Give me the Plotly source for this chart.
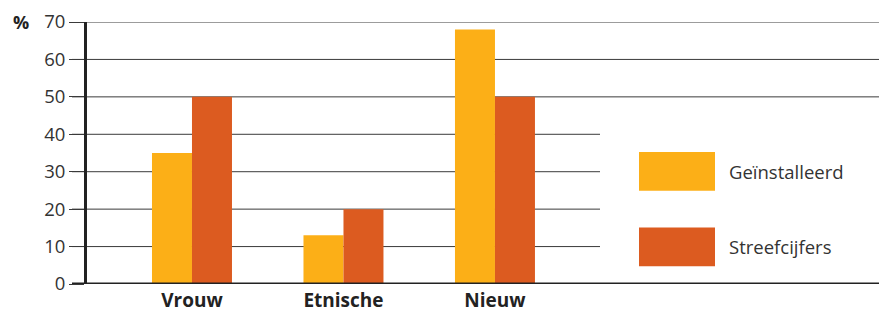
import plotly.graph_objects as go

categories = ["Vrouw", "Etnische", "Nieuw"]
geinstalleerd = [35, 13, 68]
streefcijfers = [50, 20, 50]
series_names = ["Geïnstalleerd", "Streefcijfers"]
y_ticks = [0, 10, 20, 30, 40, 50, 60, 70]

YELLOW = "#FCAF17"
ORANGE = "#DC5B20"
FONT = "Open Sans, Noto Sans, sans-serif"

x_idx = list(range(len(categories)))

fig = go.Figure()
fig.add_trace(go.Bar(x=x_idx, y=geinstalleerd, name=series_names[0],
                     marker=dict(color=YELLOW, line=dict(width=0))))
fig.add_trace(go.Bar(x=x_idx, y=streefcijfers, name=series_names[1],
                     marker=dict(color=ORANGE, line=dict(width=0))))

W, H = 879, 313
L, R, T, B = 87, 0, 22, 27
pw = W - L - R
ph = H - T - B

def px_to_xpaper(px):
    return (px - L) / pw

def py_to_ypaper(py):
    return (H - B - py) / ph

shapes = []
legend_left = px_to_xpaper(600)
for v in y_ticks[1:]:
    x1 = 1 if v >= 50 else legend_left
    shapes.append(dict(type="line", xref="paper", yref="y", x0=px_to_xpaper(72), x1=x1,
                       y0=v, y1=v, line=dict(color="#3a3a3a", width=1), layer="below"))
# zero axis line
shapes.append(dict(type="line", xref="paper", yref="y", x0=px_to_xpaper(72), x1=1,
                   y0=0, y1=0, line=dict(color="#222222", width=3), layer="above"))
# legend swatches
colors = [YELLOW, ORANGE]
box_rows = [(153, 192), (229, 268)]
text_rows = [173, 248]
annotations = []
for name, c, (ty, by), tcy in zip(series_names, colors, box_rows, text_rows):
    shapes.append(dict(type="rect", xref="paper", yref="paper",
                       x0=px_to_xpaper(639), x1=px_to_xpaper(715),
                       y0=py_to_ypaper(by), y1=py_to_ypaper(ty),
                       fillcolor=c, line=dict(width=0)))
    annotations.append(dict(text=name, xref="paper", yref="paper",
                            x=px_to_xpaper(727), y=py_to_ypaper(tcy),
                            xanchor="left", yanchor="middle", showarrow=False,
                            font=dict(family=FONT, size=18.5, color="#333333")))

annotations.append(dict(text="<b>%</b>", xref="paper", yref="paper",
                        x=px_to_xpaper(31), y=1, xanchor="right", yanchor="middle",
                        showarrow=False, font=dict(family=FONT, size=18, color="#222222")))

fig.update_layout(
    width=W, height=H,
    margin=dict(l=L, r=R, t=T, b=B),
    paper_bgcolor="white", plot_bgcolor="white",
    barmode="group", bargap=0.472, bargroupgap=0,
    showlegend=False,
    shapes=shapes, annotations=annotations,
    font=dict(family=FONT, color="#333333"),
    xaxis=dict(range=[-0.693, 4.535], tickmode="array", tickvals=x_idx,
               ticktext=["<b>%s</b>" % c for c in categories],
               tickfont=dict(family=FONT, size=19, color="#222222"),
               showgrid=False, zeroline=False, showline=False, ticks="",
               ticklabelstandoff=3, fixedrange=True),
    yaxis=dict(range=[0, 70], tickvals=y_ticks, showgrid=False, zeroline=False,
               showline=True, linecolor="#222222", linewidth=3,
               ticks="outside", ticklen=15, tickcolor="#3a3a3a", tickwidth=1,
               tickfont=dict(family=FONT, size=18.5, color="#333333"),
               fixedrange=True),
)

fig.write_html("out.html", config={"displayModeBar": False, "staticPlot": True})

with open("out.html", "r", encoding="utf-8") as f:
    html = f.read()
html = html.replace("<body>", "<body style=\"margin:0;padding:0;overflow:hidden\">", 1)
with open("out.html", "w", encoding="utf-8") as f:
    f.write(html)
